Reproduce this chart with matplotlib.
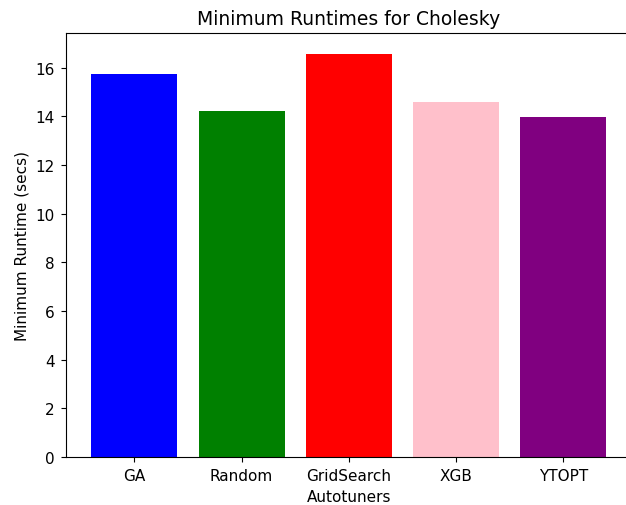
import matplotlib
matplotlib.use('Agg')
import matplotlib.pyplot as plt

# autotuners and their minimum runtimes (secs)
autotuners = ['GA', 'Random', 'GridSearch', 'XGB', 'YTOPT']
min_runtimes = [15.75, 14.23, 16.58, 14.59, 13.97]
bar_colors = ['blue', 'green', 'red', 'pink', 'purple']

fig, ax = plt.subplots(figsize=(6.26, 5.06), dpi=100)
fig.subplots_adjust(left=0.105, right=1.0096, top=0.932, bottom=0.095)

ax.bar(autotuners, min_runtimes, color=bar_colors)

ax.set_title('Minimum Runtimes for Cholesky', fontsize=13.5, pad=6.6)
ax.set_xlabel('Autotuners', fontsize=11, labelpad=4.5)
ax.set_ylabel('Minimum Runtime (secs)', fontsize=11, labelpad=4.5)
ax.tick_params(labelsize=11, length=3.9, pad=3.9)

fig.savefig('out.png', dpi=100)
